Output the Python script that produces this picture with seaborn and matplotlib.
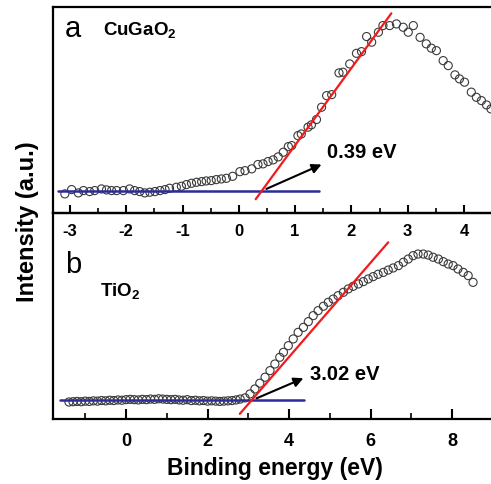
import seaborn as sns
import matplotlib.pyplot as plt
from matplotlib.ticker import MultipleLocator

# ---- panel a: CuGaO2 ----
cugao2_energy = [-3.09, -2.97, -2.85, -2.76, -2.65, -2.56, -2.44, -2.35, -2.26, -2.17,
                 -2.05, -1.94, -1.85, -1.76, -1.67, -1.58, -1.49, -1.40, -1.31,
                 -1.23, -1.11, -1.02, -0.93, -0.84, -0.75, -0.66, -0.58, -0.49, -0.40,
                 -0.31, -0.22, -0.11, 0.02, 0.11, 0.23, 0.34, 0.43, 0.52, 0.61,
                 0.70, 0.79, 0.88, 0.94, 1.05, 1.11, 1.23, 1.29, 1.38, 1.47,
                 1.56, 1.65, 1.78, 1.85, 1.97, 2.09, 2.18, 2.27, 2.36, 2.48,
                 2.56, 2.68, 2.80, 2.92, 3.01, 3.10, 3.22, 3.33, 3.42, 3.51,
                 3.63, 3.72, 3.84, 3.92, 4.01, 4.13, 4.22, 4.31, 4.40, 4.48]
cugao2_intensity = [-0.018, 0.008, -0.012, 0.002, -0.004, 0.002, 0.012, 0.006, 0.002, 0.002,
                    0.002, 0.012, 0.002, -0.004, -0.012, -0.008, -0.004, 0.002, 0.008,
                    0.016, 0.022, 0.028, 0.038, 0.046, 0.052, 0.056, 0.060, 0.062, 0.068,
                    0.072, 0.076, 0.088, 0.116, 0.122, 0.133, 0.159, 0.163, 0.177, 0.187,
                    0.205, 0.233, 0.267, 0.273, 0.333, 0.343, 0.384, 0.398, 0.430, 0.504,
                    0.574, 0.580, 0.711, 0.715, 0.765, 0.829, 0.839, 0.930, 0.896, 0.956,
                    0.996, 0.996, 1.006, 0.986, 0.956, 0.996, 0.925, 0.886, 0.860, 0.845,
                    0.785, 0.755, 0.699, 0.675, 0.655, 0.595, 0.564, 0.544, 0.518, 0.494]
cugao2_fit_x = [0.30, 2.71]
cugao2_fit_y = [-0.05, 1.07]
cugao2_base_x = [-3.21, 1.43]
cugao2_base_y = [0.0, 0.0]
cugao2_vbm = "0.39 eV"

# ---- panel b: TiO2 ----
tio2_energy = [-1.4, -1.3, -1.2, -1.1, -1.0, -0.9, -0.8, -0.7, -0.6, -0.5,
               -0.4, -0.3, -0.2, -0.1, 0.0, 0.1, 0.2, 0.3, 0.4, 0.5,
               0.6, 0.7, 0.8, 0.9, 1.0, 1.1, 1.2, 1.3, 1.4, 1.5,
               1.6, 1.7, 1.8, 1.9, 2.0, 2.1, 2.2, 2.3, 2.4, 2.5,
               2.6, 2.7, 2.8,
               2.92, 3.04, 3.16, 3.28, 3.41, 3.53, 3.65, 3.77, 3.86, 3.98,
               4.10, 4.22, 4.35, 4.47, 4.59, 4.71, 4.84, 4.96, 5.08, 5.20,
               5.33, 5.45, 5.57, 5.70, 5.82, 5.94, 6.06, 6.18, 6.31, 6.43,
               6.55, 6.68, 6.80, 6.92, 7.04, 7.16, 7.29, 7.41, 7.53, 7.66,
               7.78, 7.90, 8.02, 8.14, 8.27, 8.39, 8.51]
tio2_intensity = [-0.014, -0.012, -0.010, -0.012, -0.008, -0.010, -0.006, -0.008, -0.004, -0.006,
                  -0.002, -0.004, 0.000, -0.002, 0.002, 0.004, 0.002, 0.000, 0.004, 0.002,
                  0.006, 0.004, 0.008, 0.006, 0.004, 0.002, 0.004, 0.000, -0.002, 0.002,
                  -0.004, -0.002, -0.006, -0.004, -0.008, -0.006, -0.008, -0.010, -0.008, -0.006,
                  -0.004, 0.000, 0.006,
                  0.014, 0.041, 0.075, 0.114, 0.155, 0.200, 0.245, 0.291, 0.325, 0.370,
                  0.416, 0.461, 0.495, 0.534, 0.575, 0.609, 0.639, 0.666, 0.688, 0.711,
                  0.734, 0.757, 0.775, 0.791, 0.807, 0.825, 0.841, 0.857, 0.870, 0.886,
                  0.900, 0.916, 0.939, 0.961, 0.984, 0.995, 0.995, 0.988, 0.973, 0.961,
                  0.943, 0.927, 0.916, 0.893, 0.870, 0.848, 0.802]
tio2_fit_x = [2.79, 6.43]
tio2_fit_y = [-0.095, 1.075]
tio2_base_x = [-1.63, 4.37]
tio2_base_y = [0.0, 0.0]
tio2_vbm = "3.02 eV"


def style_axis(ax, major, minor, length):
    ax.xaxis.set_major_locator(MultipleLocator(major))
    ax.xaxis.set_minor_locator(MultipleLocator(minor))
    ax.tick_params(axis='x', which='major', direction='in', length=length, width=1.5,
                   bottom=True, top=False, colors='black')
    ax.tick_params(axis='x', which='minor', direction='in', length=length * 0.55, width=1.2,
                   bottom=True, top=False, colors='black')
    ax.tick_params(axis='y', left=False, labelleft=False)
    ax.set_xlabel('')
    ax.set_ylabel('')
    ax.spines['right'].set_visible(False)
    for s in ['left', 'top', 'bottom']:
        ax.spines[s].set_linewidth(1.6)
        ax.spines[s].set_color('black')
        ax.spines[s].set_visible(True)


def panel(ax, x, y, fit_x, fit_y, base_x, base_y):
    sns.scatterplot(x=x, y=y, ax=ax, marker='o', s=34, facecolor='none',
                    edgecolor='#3a3a3a', linewidth=0.8, zorder=2)
    sns.lineplot(x=base_x, y=base_y, ax=ax, color='#2b2b9c', linewidth=1.8, zorder=3)
    sns.lineplot(x=fit_x, y=fit_y, ax=ax, color='#f21a1a', linewidth=1.6, zorder=4)


def main():
    sns.set_theme(style='white')
    plt.rcParams['font.family'] = ['Liberation Sans', 'DejaVu Sans']
    plt.rcParams['mathtext.fontset'] = 'custom'
    plt.rcParams['mathtext.rm'] = 'Liberation Sans:bold'
    plt.rcParams['mathtext.bf'] = 'Liberation Sans:bold'
    plt.rcParams['axes.unicode_minus'] = False
    plt.rcParams['text.color'] = 'black'

    fig = plt.figure(figsize=(4.91, 4.85), dpi=100)
    ax_b = fig.add_axes([0.108, 0.134, 0.892, 0.4248])
    ax_a = fig.add_axes([0.108, 0.5588, 0.892, 0.4247])
    ax_b.patch.set_alpha(0)
    ax_a.patch.set_alpha(0)

    # panel a
    panel(ax_a, cugao2_energy, cugao2_intensity, cugao2_fit_x, cugao2_fit_y,
          cugao2_base_x, cugao2_base_y)
    ax_a.set_xlim(-3.3, 4.48)
    ax_a.set_ylim(-0.133, 1.108)
    style_axis(ax_a, 1, 0.5, 6)
    ax_a.tick_params(axis='x', labelsize=12, pad=7)
    for lab in ax_a.get_xticklabels():
        lab.set_fontweight('bold')
    ax_a.text(-3.09, 0.936, 'a', fontsize=21)
    ax_a.text(-2.42, 0.943, r'CuGaO$_2$', fontsize=13.5, fontweight='bold')
    ax_a.annotate('', xy=(1.47, 0.159), xytext=(0.49, 0.012),
                  arrowprops=dict(arrowstyle='-|>', color='black', lw=1.5,
                                  mutation_scale=14, shrinkA=0, shrinkB=0))
    ax_a.text(1.56, 0.203, cugao2_vbm, fontsize=14.5, fontweight='bold')

    # panel b
    panel(ax_b, tio2_energy, tio2_intensity, tio2_fit_x, tio2_fit_y,
          tio2_base_x, tio2_base_y)
    ax_b.set_xlim(-1.79, 8.95)
    ax_b.set_ylim(-0.13, 1.275)
    style_axis(ax_b, 2, 1, 7.5)
    ax_b.tick_params(axis='x', labelsize=13, pad=9)
    for lab in ax_b.get_xticklabels():
        lab.set_fontweight('bold')
    ax_b.text(-1.50, 0.870, 'b', fontsize=21)
    ax_b.text(-0.64, 0.711, r'TiO$_2$', fontsize=13.5, fontweight='bold')
    ax_b.annotate('', xy=(4.35, 0.148), xytext=(3.20, 0.011),
                  arrowprops=dict(arrowstyle='-|>', color='black', lw=1.5,
                                  mutation_scale=14, shrinkA=0, shrinkB=0))
    ax_b.text(4.51, 0.143, tio2_vbm, fontsize=14.5, fontweight='bold')

    fig.text(0.057, 0.542, 'Intensity (a.u.)', rotation=90, ha='center', va='center',
             fontsize=17, fontweight='bold')
    fig.text(0.56, 0.033, 'Binding energy (eV)', ha='center', va='center',
             fontsize=16.5, fontweight='bold')

    fig.savefig('out.png', dpi=100)


if __name__ == "__main__":
    main()
